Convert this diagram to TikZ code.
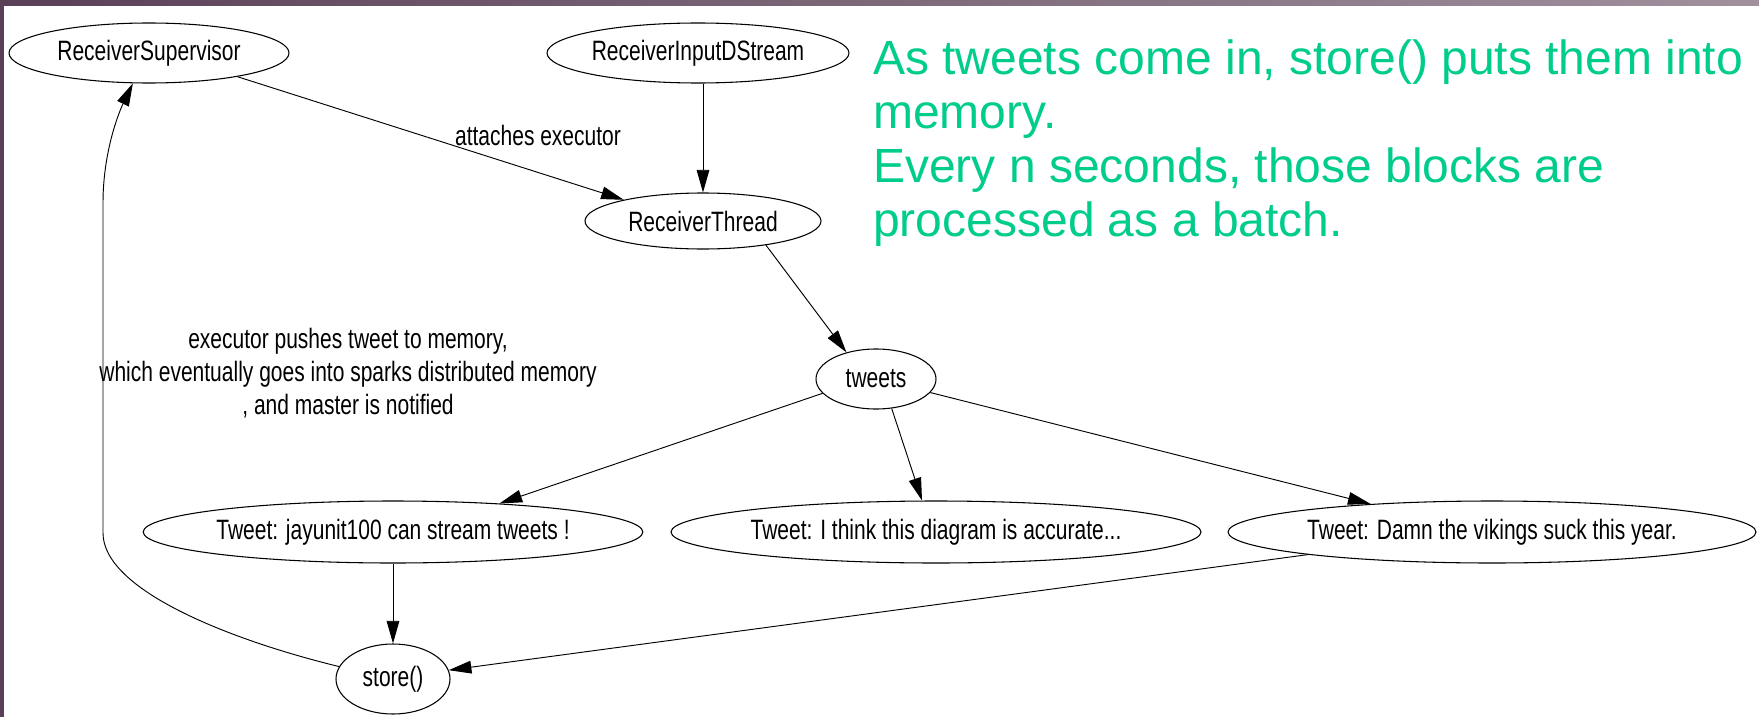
\documentclass[tikz,border=0pt]{standalone}
\usepackage{fontspec}
\usetikzlibrary{shapes.geometric,arrows.meta}
\newfontfamily\gvfont[FakeStretch=0.75]{Liberation Sans}
\newfontfamily\notefont{Liberation Sans}
\definecolor{notegreen}{RGB}{0,204,140}
\definecolor{bgdark}{RGB}{90,64,87}
\definecolor{bglight}{RGB}{160,145,157}
\begin{document}
\begin{tikzpicture}[x=0.75pt,y=-0.75pt,
  gv/.style={ellipse, draw, line width=0.8pt, inner sep=0pt, font=\gvfont\fontsize{21}{25}\selectfont},
  arr/.style={-{Triangle[length=17pt,width=9.5pt]}, line width=0.7pt},
  lbl/.style={font=\gvfont\fontsize{21}{24.75}\selectfont, align=center, inner sep=0pt}]
\useasboundingbox (0,0) rectangle (1759,717);
\shade[left color=bgdark, right color=bglight] (0,0) rectangle (1759,6);
\fill[bgdark] (0,0) rectangle (4,717);
\fill[white] (4,6) rectangle (1759,717);

\node[gv, minimum width=210pt, minimum height=45pt] (rs) at (149,53) {ReceiverSupervisor};
\node[gv, minimum width=226.5pt, minimum height=45pt] (rids) at (698,53) {ReceiverInputDStream};
\node[gv, minimum width=177pt, minimum height=42pt] (rt) at (703,221) {ReceiverThread};
\node[gv, minimum width=90pt, minimum height=45pt] (tw) at (876,379) {tweets};
\node[gv, minimum width=373.5pt, minimum height=46.5pt] (tj) at (393,532) {Tweet: jayunit100 can stream tweets !};
\node[gv, minimum width=397.5pt, minimum height=46.5pt] (ti) at (936,532) {Tweet: I think this diagram is accurate...};
\node[gv, minimum width=396pt, minimum height=46.5pt] (td) at (1492,532) {Tweet: Damn the vikings suck this year.};
\node[gv, minimum width=85.5pt, minimum height=52.5pt] (st) at (393,679) {store()};

\node[lbl] (la) at (538,135) {attaches executor};
\node[lbl] (lb) at (348,373) {executor pushes tweet to memory,\\which eventually goes into sparks distributed memory\\, and master is notified};

\node[anchor=north west, align=left, inner sep=0pt, text=notegreen,
  font=\notefont\fontsize{36}{40.5}\selectfont] (note) at (873,39)
  {As tweets come in, store() puts them into\\memory.\\Every n seconds, those blocks are\\processed as a batch.};

\draw[arr] (rs.-15) -- (rt.165);
\draw[arr] (rt.north |- rids.south) -- (rt.north);
\draw[arr] (rt.-21) -- (tw.138);
\draw[arr] (tw.195) -- (tj.15);
\draw[arr] (tw.-62) -- (ti.114);
\draw[arr] (tw.-14) -- (td.167);
\draw[arr] (tj.south) -- (st.north);
\draw[arr] (td.187) -- (st.9);
\draw[arr] (st.167) .. controls (230,640) and (103,590) .. (103,533) -- (103,203) .. controls (103,150) and (120,110) .. (rs.-118);
\end{tikzpicture}
\end{document}
